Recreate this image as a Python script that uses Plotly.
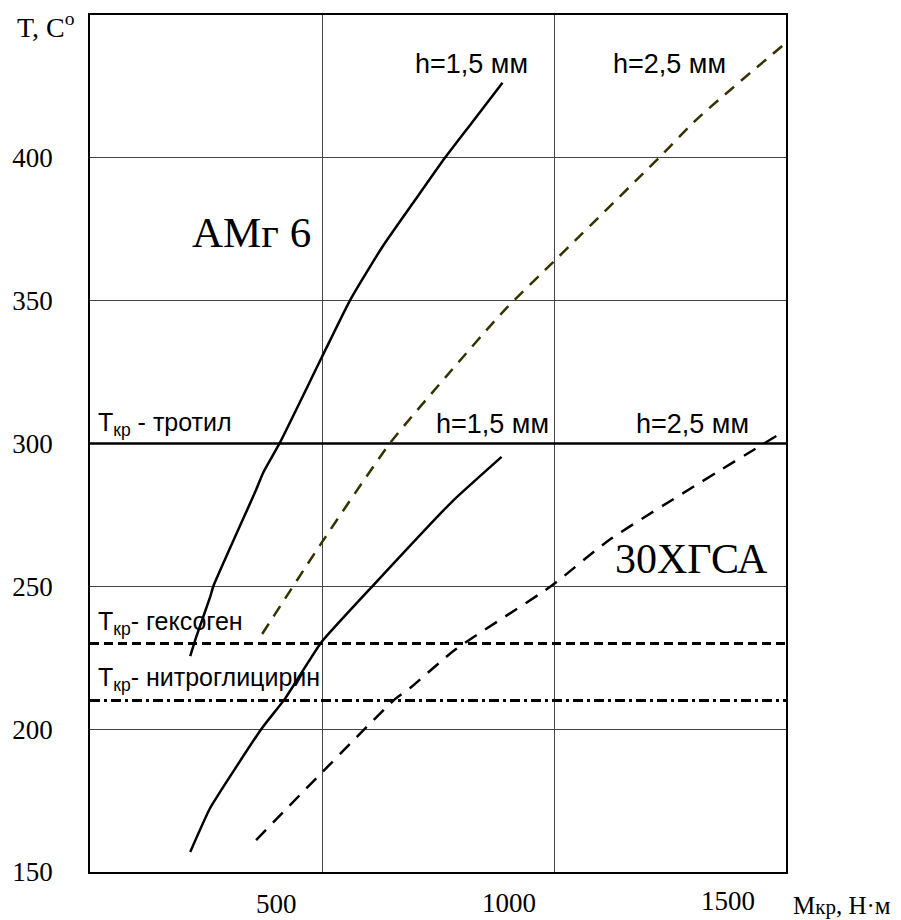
import plotly.graph_objects as go

# ---- data ----
amg6_h15_x = [216, 229, 259, 266, 358, 373, 409, 499, 561, 630, 701, 765, 823, 889]
amg6_h15_y = [225.6, 232.3, 246.3, 250.1, 283.8, 289.7, 300.2, 330.0, 350.3, 368.8, 385.3, 400.0, 412.3, 426.3]

amg6_h25_x = [371, 499, 647, 780, 894, 999, 1226, 1311, 1500]
amg6_h25_y = [233.3, 265.2, 300.2, 325.8, 346.8, 363.6, 400.0, 414.0, 440.3]

xgsa_h15_x = [216, 259, 369, 420, 499, 609, 780, 887]
xgsa_h15_y = [157.0, 172.4, 200.0, 210.6, 230.5, 250.1, 279.6, 295.3]

xgsa_h25_x = [358, 499, 658, 690, 786, 994, 1119, 1483]
xgsa_h25_y = [161.2, 184.7, 210.6, 214.4, 227.7, 250.1, 266.2, 303.0]

t_trotil = 300
t_geksogen = 230
t_nitro = 210

x_range = [0, 1500]
y_range = [150, 450]
x_grid_vals = [500, 1000]
x_tick_text = ["500", "1000", "1500"]
y_tick_vals = [150, 200, 250, 300, 350, 400]
y_tick_text = ["150", "200", "250", "300", "350", "400"]

SERIF = "Liberation Serif, Times New Roman, serif"
SANS = "Liberation Sans, Arial, sans-serif"

fig = go.Figure()

# threshold lines
fig.add_trace(go.Scatter(x=x_range, y=[t_trotil] * 2, mode="lines",
                         line=dict(color="black", width=2.5), hoverinfo="skip"))
fig.add_trace(go.Scatter(x=x_range, y=[t_geksogen] * 2, mode="lines",
                         line=dict(color="black", width=3, dash="9px,5px"), hoverinfo="skip"))
fig.add_trace(go.Scatter(x=x_range, y=[t_nitro] * 2, mode="lines",
                         line=dict(color="black", width=3, dash="10px,4px,3px,4px"), hoverinfo="skip"))

# curves
fig.add_trace(go.Scatter(x=amg6_h15_x, y=amg6_h15_y, mode="lines",
                         line=dict(color="black", width=2.5, shape="spline", smoothing=0.5)))
fig.add_trace(go.Scatter(x=amg6_h25_x, y=amg6_h25_y, mode="lines",
                         line=dict(color="#333300", width=2.5, dash="12px,9px", shape="spline", smoothing=0.6)))
fig.add_trace(go.Scatter(x=xgsa_h15_x, y=xgsa_h15_y, mode="lines",
                         line=dict(color="black", width=2.5, shape="spline", smoothing=0.4)))
fig.add_trace(go.Scatter(x=xgsa_h25_x, y=xgsa_h25_y, mode="lines",
                         line=dict(color="black", width=2.5, dash="14px,10px", shape="spline", smoothing=0.6)))

annotations = []
# x tick labels (offset as in the reference)
x_label_pos = [(403, -32), (904, -31), (1374, -29)]
for (xp, ys), txt in zip(x_label_pos, x_tick_text):
    annotations.append(dict(x=xp, y=0, xref="x", yref="paper", yshift=ys, text=txt,
                            showarrow=False, font=dict(family=SERIF, size=27, color="black"),
                            xanchor="center", yanchor="middle"))
annotations.append(dict(x=1.081, y=0, xref="paper", yref="paper", yshift=-33,
                        text="М<span style='font-size:21px'>кр</span>, Н·м", showarrow=False,
                        font=dict(family=SERIF, size=25, color="black"),
                        xanchor="center", yanchor="middle"))
# y axis title
annotations.append(dict(x=-0.063, y=1.0, xref="paper", yref="paper", yshift=-10,
                        text="T, C<sup>o</sup>", showarrow=False,
                        font=dict(family=SERIF, size=28, color="black"),
                        xanchor="center", yanchor="middle"))

sans = dict(family=SANS, size=27, color="black")
labels = [
    (823, 433.0, "h=1,5 мм"),
    (1249, 433.0, "h=2,5 мм"),
    (868, 307.0, "h=1,5 мм"),
    (1299, 307.0, "h=2,5 мм"),
]
for x, y, t in labels:
    annotations.append(dict(x=x, y=y, text=t, showarrow=False, font=sans,
                            xanchor="center", yanchor="middle"))

tk = dict(family=SANS, size=25, color="black")
for y, t in [(307.0, "T<sub>кр</sub> - тротил"), (237.0, "T<sub>кр</sub>- гексоген"),
             (217.5, "T<sub>кр</sub>- нитроглицирин")]:
    annotations.append(dict(x=13, y=y, text=t, showarrow=False, font=tk,
                            xanchor="left", yanchor="middle"))

annotations.append(dict(x=348, y=374, text="АМг 6", showarrow=False,
                        font=dict(family=SERIF, size=43, color="black"),
                        xanchor="center", yanchor="middle"))
annotations.append(dict(x=1297, y=259.5, text="30ХГСА", showarrow=False,
                        font=dict(family=SERIF, size=42, color="black"),
                        xanchor="center", yanchor="middle"))

fig.update_layout(
    width=901, height=920,
    margin=dict(l=86, r=115, t=15, b=48),
    paper_bgcolor="white", plot_bgcolor="white",
    showlegend=False,
    annotations=annotations,
    xaxis=dict(range=x_range, tickvals=x_grid_vals, showticklabels=False,
               showgrid=True, gridcolor="#444", gridwidth=1, zeroline=False,
               showline=True, linecolor="black", linewidth=1.5, mirror=True, ticks=""),
    yaxis=dict(range=y_range, tickvals=y_tick_vals, ticktext=y_tick_text,
               showgrid=True, gridcolor="#444", gridwidth=1, zeroline=False,
               showline=True, linecolor="black", linewidth=1.5, mirror=True, ticks=""),
)
fig.update_yaxes(ticklabelstandoff=30, tickfont=dict(family=SERIF, size=27, color="black"))

fig.write_html("out.html", config={"displayModeBar": False},
               post_script="document.body.style.margin='0';")
